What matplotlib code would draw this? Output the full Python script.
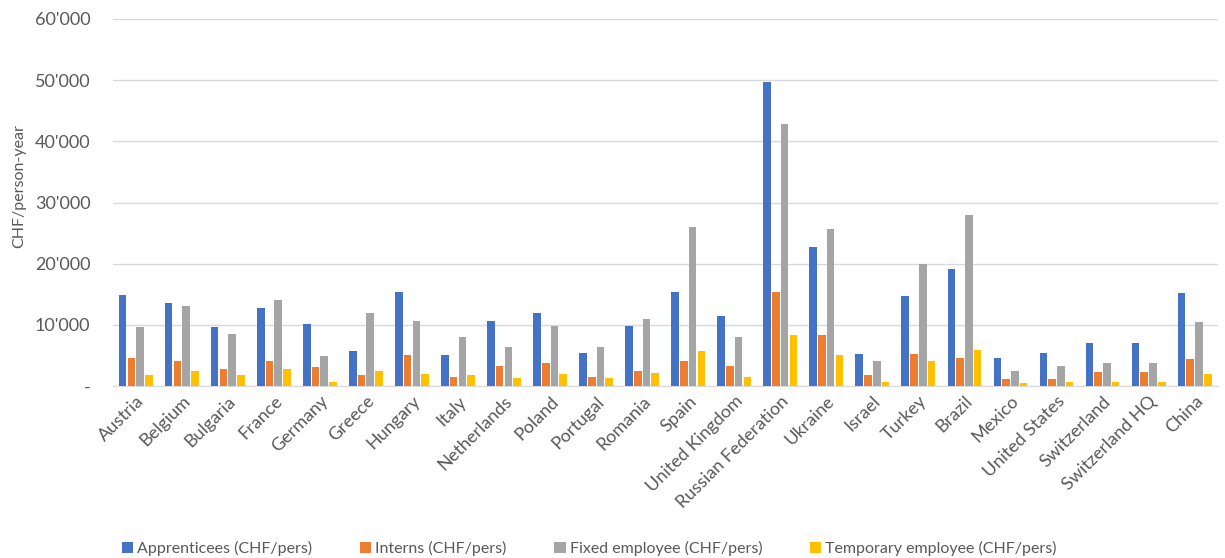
import numpy as np
import matplotlib.pyplot as plt
from matplotlib.ticker import FuncFormatter

plt.rcParams['font.family'] = ['Lato', 'DejaVu Sans']

# countries on the x axis
countries = ['Austria', 'Belgium', 'Bulgaria', 'France', 'Germany', 'Greece',
             'Hungary', 'Italy', 'Netherlands', 'Poland', 'Portugal', 'Romania',
             'Spain', 'United Kingdom', 'Russian Federation', 'Ukraine', 'Israel',
             'Turkey', 'Brazil', 'Mexico', 'United States', 'Switzerland',
             'Switzerland HQ', 'China']

# CHF per person-year
apprentices = [14870, 13560, 9620, 12800, 10170, 5690, 15410, 5140, 10720, 12030,
               5410, 9900, 15410, 11480, 49620, 22790, 5200, 14660, 19130, 4650,
               5470, 7000, 7000, 15150]
interns = [4650, 4100, 2790, 4100, 3070, 1750, 5140, 1530, 3340, 3830,
           1530, 2520, 4100, 3340, 15410, 8310, 1750, 5200, 4650, 1210,
           1210, 2240, 2240, 4380]
fixed = [9620, 13070, 8580, 14100, 4870, 12030, 10720, 8100, 6450, 9900,
         6450, 10930, 25970, 8100, 42790, 25690, 4100, 19900, 28030, 2520,
         3280, 3830, 3830, 10440]
temporary = [1750, 2520, 1750, 2790, 660, 2520, 1970, 1750, 1260, 1970,
             1260, 2130, 5690, 1480, 8310, 5140, 720, 4100, 5970, 440,
             720, 720, 720, 2030]

series = [apprentices, interns, fixed, temporary]
names = ['Apprenticees (CHF/pers)', 'Interns (CHF/pers)',
         'Fixed employee (CHF/pers)', 'Temporary employee (CHF/pers)']
colors = ['#4472C4', '#ED7D31', '#A5A5A5', '#FFC000']

fig, ax = plt.subplots(figsize=(12.25, 5.58), dpi=100)
fig.subplots_adjust(left=0.092, right=0.994, top=0.966, bottom=0.308)

x = np.arange(len(countries))
w = 0.165
step = 0.19
for i in range(4):
    ax.bar(x + (i - 1.5) * step, series[i], w, color=colors[i], label=names[i],
           zorder=3)

ax.set_xlim(-0.5, len(countries) - 0.5)
ax.set_ylim(0, 60000)
ax.set_yticks(np.arange(0, 60001, 10000))


def fmt(v, pos):
    if v == 0:
        return '-'
    return "{:,.0f}".format(v).replace(',', "'")


ax.yaxis.set_major_formatter(FuncFormatter(fmt))
ax.grid(axis='y', color='#D9D9D9', linewidth=1, zorder=0)
for s in ['top', 'right', 'left']:
    ax.spines[s].set_visible(False)
ax.spines['bottom'].set_color('#D9D9D9')
ax.tick_params(axis='both', length=0, labelsize=13, colors='#595959')
ax.tick_params(axis='y', pad=16)
ax.tick_params(axis='x', pad=5)
ax.set_xticks(x)
ax.set_xticklabels(countries, rotation=45, ha='right', rotation_mode='anchor')
ax.set_ylabel('CHF/person-year', fontsize=11.5, color='#595959')
ax.yaxis.set_label_coords(-0.078, 0.545)

fig.legend(loc='lower center', bbox_to_anchor=(0.481, -0.022), ncol=4, frameon=False,
           fontsize=11.5, handlelength=0.7, handleheight=0.7, columnspacing=3.0,
           handletextpad=0.25, labelcolor='#595959')

plt.savefig('out.png', dpi=100)
